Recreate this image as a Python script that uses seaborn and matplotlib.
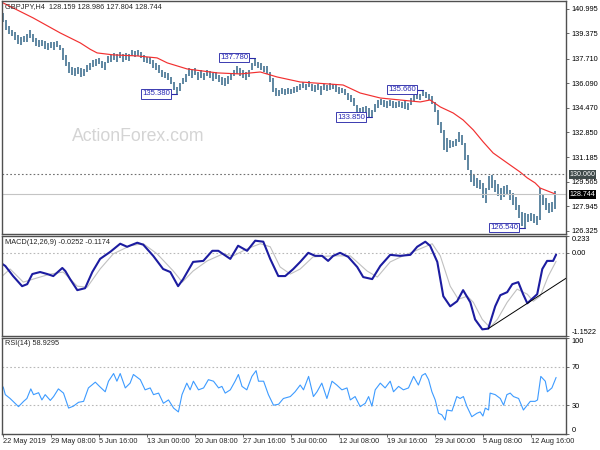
import matplotlib
matplotlib.use("Agg")
import matplotlib.pyplot as plt
import seaborn as sns

# ─── Data ─────────────────────────────────────────────────────────────────────
# price bars, one entry per bar slot
bar_high = [
    140.73, 140.27, 139.87, 139.61, 139.47, 139.28, 139.14, 139.21, 139.34, 139.61,
    139.34, 139.08, 138.95, 138.95, 138.88, 138.75, 138.81, 138.81, 138.88, 138.62,
    138.42, 137.96, 137.49, 137.16, 137.10, 137.16, 137.10, 137.03, 137.29, 137.43,
    137.62, 137.69, 137.76, 137.56, 137.49, 137.89, 137.96, 138.09, 138.02, 138.15,
    138.02, 138.09, 138.02, 138.29, 138.22, 138.29, 138.15, 137.96, 137.82, 137.82,
    137.62, 137.43, 137.29, 136.96, 136.83, 136.77, 136.50, 136.17, 135.84, 136.10,
    136.43, 136.70, 137.10, 136.96, 137.10, 136.83, 136.96, 136.77, 136.96, 136.90,
    136.77, 136.83, 136.63, 136.50, 136.43, 136.57, 136.77, 136.96, 137.23, 137.10,
    136.96, 136.83, 136.96, 137.43, 137.78, 137.49, 137.43, 137.23, 137.23, 136.83,
    136.43, 135.77, 135.64, 135.77, 135.71, 135.77, 135.71, 135.84, 135.91, 136.04,
    136.17, 136.04, 136.24, 136.04, 135.97, 136.04, 135.91, 136.04, 135.97, 136.10,
    136.04, 135.97, 135.84, 135.77, 135.71, 135.44, 135.31, 135.11, 134.65, 134.45,
    134.52, 134.58, 134.45, 134.32, 134.72, 134.98, 135.05, 134.98, 134.91, 134.98,
    134.91, 134.85, 134.91, 134.85, 134.91, 134.78, 135.11, 135.31, 135.44, 135.38,
    135.66, 135.51, 135.38, 135.24, 134.85, 134.32, 133.53, 133.00, 132.47, 132.34,
    132.27, 132.40, 132.87, 132.67, 132.14, 131.35, 130.35, 130.02, 129.83, 129.69,
    129.50, 129.17, 129.96, 130.02, 129.69, 129.43, 129.17, 129.30, 129.36, 129.03,
    128.83, 128.57, 128.04, 127.58, 127.51, 127.45, 127.51, 127.45, 127.31, 129.17,
    128.70, 128.50, 128.17, 128.24, 128.99,
]
bar_low = [
    140.14, 139.61, 139.34, 139.21, 138.95, 138.68, 138.62, 138.81, 138.81, 139.08,
    138.81, 138.55, 138.48, 138.55, 138.35, 138.29, 138.42, 138.29, 138.48, 138.29,
    137.62, 137.23, 136.77, 136.63, 136.57, 136.70, 136.50, 136.57, 136.83, 136.96,
    137.16, 137.23, 137.36, 137.10, 136.96, 137.43, 137.49, 137.62, 137.49, 137.76,
    137.49, 137.62, 137.56, 137.89, 137.82, 137.89, 137.76, 137.49, 137.43, 137.36,
    137.10, 136.96, 136.77, 136.50, 136.43, 136.30, 136.04, 135.64, 135.38, 135.58,
    136.04, 136.17, 136.57, 136.43, 136.63, 136.30, 136.43, 136.30, 136.57, 136.43,
    136.24, 136.37, 136.17, 135.97, 135.91, 136.04, 136.30, 136.57, 136.70, 136.57,
    136.43, 136.30, 136.50, 136.96, 137.23, 137.10, 136.96, 136.83, 136.70, 136.17,
    135.51, 135.24, 135.24, 135.38, 135.31, 135.38, 135.38, 135.44, 135.51, 135.64,
    135.77, 135.64, 135.84, 135.58, 135.51, 135.64, 135.31, 135.64, 135.58, 135.64,
    135.71, 135.51, 135.38, 135.44, 135.31, 134.98, 134.85, 134.58, 134.12, 133.92,
    134.05, 134.12, 133.85, 133.85, 134.19, 134.45, 134.65, 134.52, 134.45, 134.58,
    134.45, 134.45, 134.52, 134.45, 134.39, 134.32, 134.65, 134.91, 135.05, 134.98,
    135.24, 135.11, 134.98, 134.72, 134.19, 133.33, 132.80, 131.68, 131.54, 131.81,
    131.87, 131.94, 132.21, 132.01, 131.02, 130.35, 129.56, 129.30, 129.17, 129.10,
    128.50, 128.17, 129.03, 129.17, 128.90, 128.64, 128.37, 128.57, 128.70, 128.37,
    128.04, 127.71, 127.18, 126.65, 126.54, 126.92, 126.98, 126.85, 126.72, 127.05,
    128.04, 127.71, 127.51, 127.58, 127.80,
]

# moving average (red)
ma_x = [0, 10, 19, 25.7, 29, 31.3, 36.7, 44.7, 51.3, 54.7, 61.3, 71.3, 79, 85.7,
        91.3, 99, 113.3, 119, 125.7, 132.3, 139, 142.3, 145.7, 150, 153.3, 156.7,
        160, 163.3, 168, 172.3, 174.7, 177.3, 179, 184]
ma_y = [141.39, 140.40, 139.41, 138.75, 138.33, 138.09, 137.96, 137.89, 137.76,
        137.43, 137.03, 136.77, 136.70, 136.83, 136.50, 136.17, 135.97, 135.44,
        135.11, 134.98, 134.85, 134.98, 134.52, 134.12, 133.66, 133.00, 132.21,
        131.48, 130.82, 130.22, 129.83, 129.50, 129.16, 128.77]

price_ticks = [140.995, 139.375, 137.710, 136.090, 134.470,
               132.850, 131.185, 129.565, 127.945, 126.325]
level_dotted = 130.060
level_last = 128.744

# swing high / low markers
mark_x = [58, 84, 123, 140, 174]
mark_price = [135.380, 137.780, 133.850, 135.660, 126.540]

# MACD main (blue) and signal (grey)
macd_x = [-0.3, 0.7, 3.3, 6.3, 8, 9.7, 12.3, 14.7, 16.7, 19.7,
          20.7, 22.3, 24.7, 27.3, 29.7, 32.3, 35.7, 39, 41.3, 44.7,
          46.7, 50, 53.3, 55.7, 58.3, 60, 63.3, 66.7, 69.7, 71.7,
          75.7, 78.3, 81.3, 84, 86.7, 89, 91.7, 94, 96.7, 99,
          101.7, 104, 106.3, 108.3, 110, 112.3, 115, 118, 120, 123,
          125.7, 129, 132.3, 135.7, 138, 140.7, 142.3, 144.7, 146.7, 149,
          151.3, 153.3, 155.7, 157.3, 159.7, 161.7, 164, 165.7, 168, 169.7,
          171.7, 173.3, 174.7, 178, 179.7, 181.3, 183.3, 184.3]
macd_main = [-0.154, -0.182, -0.322, -0.462, -0.434, -0.294, -0.266, -0.294, -0.322, -0.210,
             -0.252, -0.364, -0.517, -0.490, -0.266, -0.084, 0.014, 0.126, 0.084, 0.140,
             0.112, -0.042, -0.224, -0.266, -0.462, -0.364, -0.126, -0.112, 0.028, 0.028,
             -0.084, 0.098, 0.028, 0.168, 0.154, -0.084, -0.322, -0.322, -0.224, -0.126,
             0.000, -0.042, -0.042, -0.112, -0.042, 0.000, -0.056, -0.196, -0.336, -0.364,
             -0.182, -0.028, -0.042, -0.028, 0.084, 0.154, 0.098, -0.126, -0.601, -0.741,
             -0.671, -0.517, -0.685, -0.923, -1.060, -1.050, -0.741, -0.587, -0.545, -0.434,
             -0.406, -0.573, -0.699, -0.573, -0.224, -0.112, -0.112, -0.025]
sig_x = [-0.3, 2.3, 6.7, 10, 15.7, 20, 24.7, 28, 32.3, 36.7,
         42.3, 46.7, 51.3, 56.7, 59.7, 63.3, 68, 73.3, 76.7, 81.3,
         85.7, 89, 92.3, 95.7, 99, 103.3, 110, 115.7, 121.3, 124.7,
         129, 133.3, 139, 143, 145.7, 149, 151.7, 154.7, 156.7, 159.7,
         162.3, 164.7, 168, 171.3, 174.7, 176.7, 179, 181.7, 184.3]
macd_signal = [-0.322, -0.224, -0.406, -0.364, -0.294, -0.266, -0.462, -0.476, -0.224, -0.014,
               0.098, 0.126, -0.014, -0.252, -0.406, -0.252, -0.112, -0.014, -0.042, 0.056,
               0.126, 0.084, -0.196, -0.294, -0.224, -0.056, -0.042, -0.042, -0.252, -0.336,
               -0.126, -0.042, 0.056, 0.126, -0.042, -0.462, -0.643, -0.601, -0.685, -0.923,
               -1.035, -0.923, -0.685, -0.503, -0.573, -0.671, -0.601, -0.322, -0.117]
trend_x = [161.7, 187.7]
trend_y = [-1.05, -0.35]

# RSI(14)
rsi_x = [0, 0.7, 2.3, 5.1, 6.8, 7.9, 9.2, 10.1, 11.8, 12.9,
         14, 15.7, 16.8, 18.4, 20.1, 21.8, 23.4, 25.1, 26.8, 28.4,
         30.7, 32.3, 34, 35.1, 36.8, 37.9, 39, 40.7, 42.3, 43.4,
         45.7, 47.3, 49, 50.1, 51.8, 53.4, 55.1, 56.8, 58.4, 59.6,
         61.2, 62.3, 63.4, 65.1, 66.8, 68.4, 70.1, 71.8, 72.9, 74,
         75.7, 77.3, 78.4, 79.6, 81.2, 82.9, 84.3, 85.1, 86.8, 88.4,
         90.1, 91.8, 93.4, 95.7, 97.3, 99, 100.1, 101.8, 103.4, 104.6,
         106.2, 107.9, 109.6, 111.2, 112.9, 114.6, 115.7, 117.3, 119, 120.7,
         121.8, 122.9, 124, 125.7, 127.3, 129, 130.1, 131.8, 133.4, 135.1,
         136.8, 138.4, 139.6, 140.7, 141.8, 142.9, 144, 145.1, 146.2, 147.3,
         147.9, 149.6, 151.2, 152.3, 153.4, 154.6, 156.2, 157.9, 159, 159.9,
         160.7, 161.8, 162.3, 164, 165.7, 166.8, 167.9, 169, 170.1, 171.8,
         173.4, 175.7, 177.3, 178.1, 179.2, 180.7, 181.4, 182.9, 184.3]
rsi_val = [49, 41, 37, 28.5, 34, 37, 47, 41, 43, 35.5,
           41, 35, 39, 47, 42.6, 27, 29, 33, 34, 48,
           54, 49, 44, 55, 63, 55, 63, 48, 53, 62,
           56.6, 46, 48, 41, 42.6, 32, 35.5, 27, 23, 41,
           53, 46, 55, 46, 48, 56.6, 55, 48, 49.6, 42.6,
           46, 55, 62, 49.6, 46, 60, 66, 55, 55, 41,
           30, 31, 37, 39, 44, 51, 46, 60, 39, 44,
           53, 37, 55, 51, 46, 48, 35.5, 39, 28.5, 32,
           39, 29, 46, 53, 48, 55, 44, 49.6, 46, 48,
           60, 51, 61, 63, 56.6, 44, 35.5, 21.6, 20, 14.5,
           25, 24, 39, 37, 39, 28.5, 18, 21.6, 23, 18.7,
           27, 25, 42.6, 41, 37, 30, 41, 42.6, 39, 37,
           25, 34, 34, 35.5, 60, 55, 44, 48, 58.9]

date_labels = ["22 May 2019", "29 May 08:00", "5 Jun 16:00", "13 Jun 00:00",
               "20 Jun 08:00", "27 Jun 16:00", "5 Jul 00:00", "12 Jul 08:00",
               "19 Jul 16:00", "29 Jul 00:00", "5 Aug 08:00", "12 Aug 16:00"]
date_pos = [0, 16, 32, 48, 64, 80, 96, 112, 128, 144, 160, 176]

# ─── Style ────────────────────────────────────────────────────────────────────
sns.set_style("white")
plt.rcParams["font.family"] = ["Liberation Sans", "DejaVu Sans"]

FS = 5.3
FRAME = "#505050"
XLIM = (-0.4, 187.6)


def style_axes(ax):
    for s in ax.spines.values():
        s.set_color(FRAME)
        s.set_linewidth(1.0)
    ax.yaxis.tick_right()
    ax.tick_params(axis="y", direction="out", length=2.5, width=0.6, color=FRAME,
                   pad=1.5, labelsize=FS, labelcolor="black",
                   right=True, left=False, labelright=True, labelleft=False)
    ax.set_xlim(*XLIM)
    ax.set_xlabel("")
    ax.set_ylabel("")


fig = plt.figure(figsize=(6, 4.5), dpi=100)
ax_p = fig.add_axes([2 / 600, 1 - 234 / 450, 564 / 600, 233 / 450])
ax_m = fig.add_axes([2 / 600, 1 - 336 / 450, 564 / 600, 100 / 450])
ax_r = fig.add_axes([2 / 600, 1 - 434 / 450, 564 / 600, 96 / 450])

# ─── Price panel ──────────────────────────────────────────────────────────────
ax_p.vlines(range(len(bar_high)), bar_low, bar_high, color="#3b6c8c", lw=1.15)
sns.lineplot(x=ma_x, y=ma_y, ax=ax_p, color="#f23030", lw=0.85)
ax_p.axhline(level_dotted, color="#707070", lw=0.8, ls=(0, (1.5, 2)))
ax_p.axhline(level_last, color="#c4c4c4", lw=0.8)
ax_p.set_ylim(126.125, 141.52)
style_axes(ax_p)
ax_p.set_yticks(price_ticks)
ax_p.set_yticklabels([f"{v:.3f}" for v in price_ticks])
ax_p.set_xticks([])

ax_p.text(0.006, 0.992, "GBPJPY,H4  128.159 128.986 127.804 128.744",
          transform=ax_p.transAxes, ha="left", va="top", fontsize=FS)
ax_p.text(0.241, 0.42, "ActionForex.com", transform=ax_p.transAxes,
          ha="center", va="center", fontsize=12.7, color="#d4d4d4")

for xb, pr in zip(mark_x, mark_price):
    ax_p.plot([xb - 2.3, xb], [pr, pr], color="#2a2aa8", lw=0.8)
    ax_p.text(xb - 2.3, pr, f"{pr:.3f}", ha="right", va="center", fontsize=5.6,
              color="#2a2ab4",
              bbox=dict(boxstyle="square,pad=0.15", fc="white", ec="#3a3ab0", lw=0.7))

ytr = ax_p.get_yaxis_transform()
ax_p.text(1.006, level_dotted, f"{level_dotted:.3f}", transform=ytr, ha="left",
          va="center", fontsize=5.1, color="white", clip_on=False, zorder=5,
          bbox=dict(boxstyle="square,pad=0.1", fc="#3f4a4a", ec="none"))
ax_p.text(1.006, level_last, f"{level_last:.3f}", transform=ytr, ha="left",
          va="center", fontsize=5.1, color="white", clip_on=False, zorder=5,
          bbox=dict(boxstyle="square,pad=0.12", fc="black", ec="none"))

# ─── MACD panel ───────────────────────────────────────────────────────────────
ax_m.axhline(0, color="#b8b8b8", lw=0.8, ls=(0, (1.5, 2)))
sns.lineplot(x=sig_x, y=macd_signal, ax=ax_m, color="#c0c0c0", lw=0.8)
sns.lineplot(x=macd_x, y=macd_main, ax=ax_m, color="#1c1ca0", lw=1.5)
ax_m.plot(trend_x, trend_y, color="black", lw=0.7)
ax_m.set_ylim(-1.1522, 0.233)
style_axes(ax_m)
ax_m.set_yticks([0.233, 0.0, -1.1522])
ax_m.set_yticklabels(["0.233", "0.00", "-1.1522"])
ax_m.get_yticklabels()[0].set_va("top")
ax_m.get_yticklabels()[2].set_va("bottom")
ax_m.set_xticks([])
ax_m.text(0.006, 0.975, "MACD(12,26,9) -0.0252 -0.1174", transform=ax_m.transAxes,
          ha="left", va="top", fontsize=FS)

# ─── RSI panel ────────────────────────────────────────────────────────────────
for lvl in (70, 30):
    ax_r.axhline(lvl, color="#b8b8b8", lw=0.8, ls=(0, (1.5, 2)))
sns.lineplot(x=rsi_x, y=rsi_val, ax=ax_r, color="#3d9bff", lw=0.8)
ax_r.set_ylim(0, 100)
style_axes(ax_r)
ax_r.set_yticks([100, 70, 30, 0])
ax_r.set_yticklabels(["100", "70", "30", "0"])
ax_r.get_yticklabels()[0].set_va("top")
ax_r.get_yticklabels()[3].set_va("bottom")
ax_r.set_xticks(date_pos)
ax_r.set_xticklabels(date_labels, ha="left")
ax_r.tick_params(axis="x", direction="out", length=2, width=0.6, color=FRAME,
                 pad=1, labelsize=FS, bottom=True)
ax_r.text(0.006, 0.975, "RSI(14) 58.9295", transform=ax_r.transAxes,
          ha="left", va="top", fontsize=FS)

fig.savefig("out.png", dpi=100)
plt.close(fig)
